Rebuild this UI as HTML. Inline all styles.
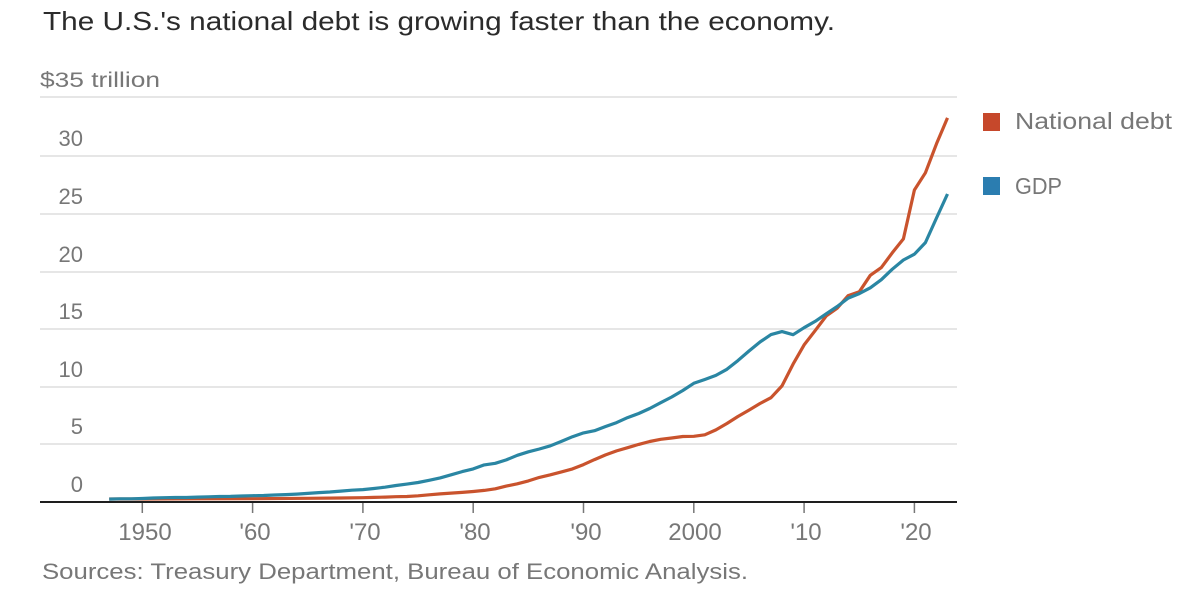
<!DOCTYPE html>
<html>
<head>
<meta charset="utf-8">
<style>
  html, body { margin: 0; padding: 0; background: #ffffff; }
  svg { display: block; }
  text { font-family: "Liberation Sans", "DejaVu Sans", sans-serif; }
</style>
</head>
<body>
<svg width="1200" height="608" viewBox="0 0 1200 608" xmlns="http://www.w3.org/2000/svg">
  <rect x="0" y="0" width="1200" height="608" fill="#ffffff"/>

  <!-- Title -->
  <text x="43" y="30" font-size="26" fill="#2b2b2b" textLength="792" lengthAdjust="spacingAndGlyphs">The U.S.'s national debt is growing faster than the economy.</text>

  <!-- Gridlines -->
  <g stroke="#dedede" stroke-width="1.5">
    <line x1="40" y1="97" x2="957" y2="97"/>
    <line x1="40" y1="156" x2="957" y2="156"/>
    <line x1="40" y1="214" x2="957" y2="214"/>
    <line x1="40" y1="272" x2="957" y2="272"/>
    <line x1="40" y1="329" x2="957" y2="329"/>
    <line x1="40" y1="387" x2="957" y2="387"/>
    <line x1="40" y1="444" x2="957" y2="444"/>
  </g>

  <!-- Y labels -->
  <text x="40" y="87" font-size="21" fill="#777" textLength="120" lengthAdjust="spacingAndGlyphs">$35 trillion</text>
  <g font-size="22" fill="#777" text-anchor="end">
    <text x="83" y="146">30</text>
    <text x="83" y="204">25</text>
    <text x="83" y="262">20</text>
    <text x="83" y="319">15</text>
    <text x="83" y="377">10</text>
    <text x="83" y="434">5</text>
    <text x="83" y="492">0</text>
  </g>

  <!-- Series: National debt -->
  <polyline fill="none" stroke="#c9532d" stroke-width="3.2" stroke-linejoin="round" stroke-linecap="butt"
    points="109.2,499.0 142.3,499.0 197.5,498.8 252.6,498.7 307.8,498.3 340.8,498.0 362.9,497.7 373.9,497.4 385.0,497.1 396.0,496.7 407.0,496.5 418.1,495.8 429.1,494.8 440.1,493.9 451.1,493.1 462.2,492.4 473.2,491.5 484.2,490.4 495.3,488.8 506.3,486.1 517.3,483.8 528.4,480.9 539.4,477.4 550.4,474.8 561.4,471.9 572.5,468.9 583.5,464.6 594.5,459.6 605.6,454.9 616.6,450.9 627.6,447.7 638.7,444.4 649.7,441.5 660.7,439.3 671.7,438.0 682.8,436.5 693.8,436.3 704.8,434.8 715.9,429.9 726.9,423.5 737.9,416.5 749.0,410.1 760.0,403.5 771.0,397.7 782.0,385.9 793.1,364.1 804.1,344.9 815.1,330.7 826.2,316.0 837.2,308.2 848.2,295.6 859.3,291.8 870.3,275.3 881.3,267.6 892.3,252.8 903.4,238.9 914.4,190.0 925.4,172.8 936.5,143.8 947.5,117.9"/>

  <!-- Series: GDP -->
  <polyline fill="none" stroke="#2a86a3" stroke-width="3.2" stroke-linejoin="round" stroke-linecap="butt"
    points="109.2,499.1 120.2,498.8 131.3,498.8 142.3,498.5 153.3,498.0 164.4,497.7 175.4,497.5 186.4,497.5 197.5,497.1 208.5,496.8 219.5,496.5 230.5,496.4 241.6,496.0 252.6,495.7 263.6,495.5 274.7,495.0 285.7,494.6 296.7,494.1 307.8,493.4 318.8,492.6 329.8,492.0 340.8,491.1 351.9,490.2 362.9,489.6 373.9,488.5 385.0,487.2 396.0,485.5 407.0,484.1 418.1,482.5 429.1,480.3 440.1,477.9 451.1,474.8 462.2,471.6 473.2,468.9 484.2,464.9 495.3,463.3 506.3,459.9 517.3,455.3 528.4,451.8 539.4,449.0 550.4,445.8 561.4,441.4 572.5,436.7 583.5,432.9 594.5,430.7 605.6,426.5 616.6,422.6 627.6,417.6 638.7,413.5 649.7,408.5 660.7,402.7 671.7,397.0 682.8,390.5 693.8,383.3 704.8,379.5 715.9,375.4 726.9,369.3 737.9,360.6 749.0,351.0 760.0,342.0 771.0,334.6 782.0,331.6 793.1,334.7 804.1,327.7 815.1,321.4 826.2,313.8 837.2,306.5 848.2,298.1 859.3,293.6 870.3,287.8 881.3,279.7 892.3,269.2 903.4,260.0 914.4,254.2 925.4,242.6 936.5,218.0 947.5,194.0"/>

  <!-- X axis -->
  <line x1="40" y1="502" x2="957" y2="502" stroke="#1e1e1e" stroke-width="2"/>
  <g stroke="#777" stroke-width="1.5">
    <line x1="142.3" y1="503" x2="142.3" y2="513"/>
    <line x1="252.6" y1="503" x2="252.6" y2="513"/>
    <line x1="362.9" y1="503" x2="362.9" y2="513"/>
    <line x1="473.2" y1="503" x2="473.2" y2="513"/>
    <line x1="583.5" y1="503" x2="583.5" y2="513"/>
    <line x1="693.8" y1="503" x2="693.8" y2="513"/>
    <line x1="804.1" y1="503" x2="804.1" y2="513"/>
    <line x1="914.4" y1="503" x2="914.4" y2="513"/>
  </g>
  <g font-size="24" fill="#777" text-anchor="middle">
    <text x="145" y="540">1950</text>
    <text x="255" y="540">'60</text>
    <text x="365" y="540">'70</text>
    <text x="475" y="540">'80</text>
    <text x="586" y="540">'90</text>
    <text x="695" y="540">2000</text>
    <text x="806" y="540">'10</text>
    <text x="916" y="540">'20</text>
  </g>

  <!-- Legend -->
  <rect x="983" y="113" width="17" height="18" fill="#c6482b"/>
  <text x="1015" y="129" font-size="23" fill="#777" textLength="157" lengthAdjust="spacingAndGlyphs">National debt</text>
  <rect x="983" y="177" width="17" height="18" fill="#2b7db0"/>
  <text x="1015" y="194" font-size="23" fill="#777" textLength="47" lengthAdjust="spacingAndGlyphs">GDP</text>

  <!-- Source -->
  <text x="42" y="579" font-size="22" fill="#777" textLength="706" lengthAdjust="spacingAndGlyphs">Sources: Treasury Department, Bureau of Economic Analysis.</text>
</svg>
</body>
</html>
